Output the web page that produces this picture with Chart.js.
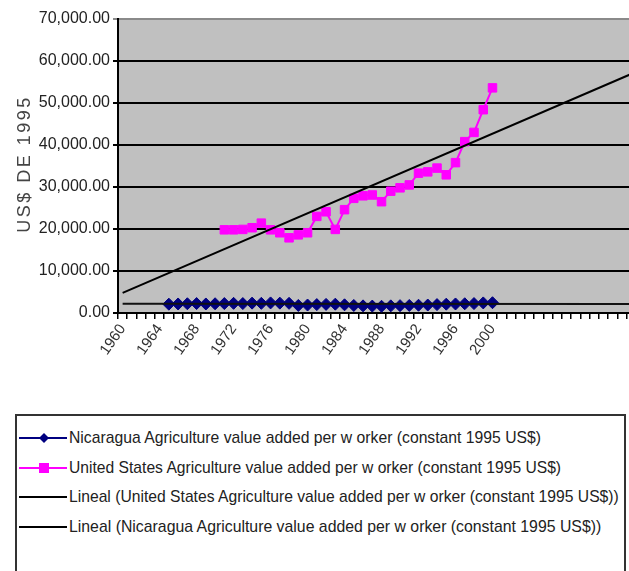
<!DOCTYPE html>
<html>
<head>
<meta charset="utf-8">
<script src="https://cdn.jsdelivr.net/npm/chart.js@4.4.1/dist/chart.umd.min.js"></script>
<style>
  html, body { margin: 0; padding: 0; background: #fff; overflow: hidden; }
  #wrap { position: absolute; left: 0; top: 0; width: 648px; height: 410px; }
  #legend { position: absolute; left: 15px; top: 414px; width: 611px; height: 170px;
            border: 2px solid #333; box-sizing: border-box; font-family: "Liberation Sans", Arial, sans-serif; }
  .row { position: absolute; left: 0; height: 20px; white-space: nowrap; }
  .row svg { position: absolute; left: 2px; top: 4px; }
  .row span { position: absolute; left: 52px; top: 0; font-size: 17px; line-height: 20px; color: #222;
              transform-origin: left center; display: inline-block; }
</style>
</head>
<body>
<div id="wrap"><canvas id="agChart"></canvas></div>
<div id="legend"></div>
<script>
// categories (the axis runs past the data, as in the sheet)
const years = ['1960','1961','1962','1963','1964','1965','1966','1967','1968','1969',
  '1970','1971','1972','1973','1974','1975','1976','1977','1978','1979',
  '1980','1981','1982','1983','1984','1985','1986','1987','1988','1989',
  '1990','1991','1992','1993','1994','1995','1996','1997','1998','1999',
  '2000','2001','2002','2003','2004','2005','2006','2007','2008','2009',
  '2010','2011','2012','2013','2014','2015'];
const tickYears = ['1960','1964','1968','1972','1976','1980','1984','1988','1992','1996','2000'];
const yTicks = [0, 10000, 20000, 30000, 40000, 50000, 60000, 70000];

// Nicaragua 1965-2000
const nicStart = '1965';
const nicValues = [2100, 2150, 2200, 2250, 2150, 2200, 2250, 2300, 2250, 2350,
  2300, 2400, 2350, 2300, 1800, 1900, 2000, 2050, 2100, 1950,
  1800, 1700, 1650, 1600, 1700, 1750, 1800, 1850, 1900, 2000,
  2100, 2150, 2200, 2250, 2400, 2450];

// United States 1971-2000
const usStart = '1971';
const usValues = [19800, 19800, 19900, 20300, 21400, 19800, 19100, 17900, 18600, 19100,
  23000, 24100, 19900, 24600, 27300, 27900, 28100, 26500, 29000, 29800,
  30500, 33300, 33600, 34500, 32900, 35800, 40800, 43000, 48400, 53600];

// trend lines, end points
const usTrend = [['1960', 4800], ['2015', 56900]];
const nicTrend = [['1960', 2200], ['2015', 2150]];

const legendLabels = [
  'Nicaragua Agriculture value added per w orker (constant 1995 US$)',
  'United States Agriculture value added per w orker (constant 1995 US$)',
  'Lineal (United States Agriculture value added per w orker (constant 1995 US$))',
  'Lineal (Nicaragua Agriculture value added per w orker (constant 1995 US$))'
];

function padSeries(start, vals) {
  const out = years.map(() => null);
  const i0 = years.indexOf(start);
  vals.forEach((v, i) => { out[i0 + i] = v; });
  return out;
}
const toPts = arr => arr.map(p => ({ x: p[0], y: p[1] }));

const fmt = v => v.toLocaleString('en-US', { minimumFractionDigits: 2, maximumFractionDigits: 2 });

const plotBg = {
  id: 'plotBg',
  beforeDraw(chart) {
    const a = chart.chartArea, c = chart.ctx;
    c.save();
    c.fillStyle = '#c0c0c0';
    c.fillRect(a.left, a.top, a.right - a.left, a.bottom - a.top);
    c.restore();
  }
};

// axis title drawn by hand, the sheet spaces its letters out
const yTitle = {
  id: 'yTitle',
  afterDraw(chart) {
    const c = chart.ctx;
    c.save();
    c.translate(25, 164);
    c.rotate(-Math.PI / 2);
    c.font = '18px "Liberation Sans", Arial, sans-serif';
    c.letterSpacing = '2.5px';
    c.fillStyle = '#444';
    c.textAlign = 'center';
    c.textBaseline = 'middle';
    c.fillText('US$ DE 1995', 0, 0);
    c.restore();
  }
};

const ctx = document.getElementById('agChart').getContext('2d');
window.myChart = new Chart(ctx, {
  type: 'line',
  data: {
    labels: years,
    datasets: [
      {
        label: legendLabels[2],
        data: toPts(usTrend),
        borderColor: '#000',
        borderWidth: 2,
        pointRadius: 0,
        order: 0
      },
      {
        label: legendLabels[3],
        data: toPts(nicTrend),
        borderColor: '#111',
        borderWidth: 2,
        pointRadius: 0,
        order: 0
      },
      {
        label: legendLabels[0],
        data: padSeries(nicStart, nicValues),
        borderColor: '#000080',
        backgroundColor: '#000080',
        borderWidth: 2,
        pointStyle: 'rectRot',
        pointRadius: 6,
        pointBorderWidth: 1,
        tension: 0,
        order: 1
      },
      {
        label: legendLabels[1],
        data: padSeries(usStart, usValues),
        borderColor: '#ff00ff',
        backgroundColor: '#ff00ff',
        borderWidth: 2,
        pointStyle: 'rect',
        pointRadius: 6,
        pointBorderWidth: 1,
        tension: 0,
        order: 1
      }
    ]
  },
  options: {
    responsive: true,
    maintainAspectRatio: false,
    animation: false,
    layout: { padding: { top: 19, right: 0, left: 0, bottom: 0 } },
    plugins: {
      legend: { display: false },
      tooltip: { enabled: false }
    },
    scales: {
      x: {
        type: 'category',
        offset: true,
        border: { color: '#000', width: 2 },
        grid: { display: true, drawOnChartArea: false, offset: true, color: '#000', lineWidth: 1.5, tickLength: 6 },
        ticks: {
          autoSkip: false,
          minRotation: 55,
          maxRotation: 55,
          padding: 2,
          color: '#333',
          font: { family: '"Liberation Sans", Arial, sans-serif', size: 15 },
          callback: function (val) {
            const lab = this.getLabelForValue(val);
            return tickYears.includes(lab) ? lab : '';
          }
        },
        afterFit: s => { s.height = 97; }
      },
      y: {
        min: 0,
        max: 70000,
        afterBuildTicks: s => { s.ticks = yTicks.map(v => ({ value: v })); },
        border: { color: '#000', width: 2 },
        grid: {
          color: c => (c.tick && c.tick.value === 70000 ? '#8a8a8a' : '#000'),
          lineWidth: 2,
          tickLength: 5
        },
        ticks: {
          padding: 3,
          color: '#222',
          font: { family: '"Liberation Sans", Arial, sans-serif', size: 16 },
          callback: v => fmt(v)
        },
        afterFit: s => { s.width = 118; }
      }
    }
  },
  plugins: [plotBg, yTitle]
});

// legend box
const legend = document.getElementById('legend');
const rowTops = [12, 42, 71, 101];
const rowWidths = [472, 492, 550, 532];
const symbols = [
  '<line x1="0" y1="6" x2="48" y2="6" stroke="#000080" stroke-width="2"/><polygon points="25,1 30,6 25,11 20,6" fill="#000080"/>',
  '<line x1="0" y1="6" x2="48" y2="6" stroke="#ff00ff" stroke-width="2"/><rect x="20" y="1" width="10" height="10" fill="#ff00ff"/>',
  '<line x1="0" y1="6" x2="48" y2="6" stroke="#000" stroke-width="2"/>',
  '<line x1="0" y1="6" x2="48" y2="6" stroke="#000" stroke-width="2"/>'
];
legendLabels.forEach((txt, i) => {
  const row = document.createElement('div');
  row.className = 'row';
  row.style.top = rowTops[i] + 'px';
  row.innerHTML = '<svg width="50" height="12">' + symbols[i] + '</svg>';
  const span = document.createElement('span');
  span.textContent = txt;
  row.appendChild(span);
  legend.appendChild(row);
  const w = span.getBoundingClientRect().width;
  span.style.transform = 'scaleX(' + (rowWidths[i] / w).toFixed(3) + ')';
});
</script>
</body>
</html>
